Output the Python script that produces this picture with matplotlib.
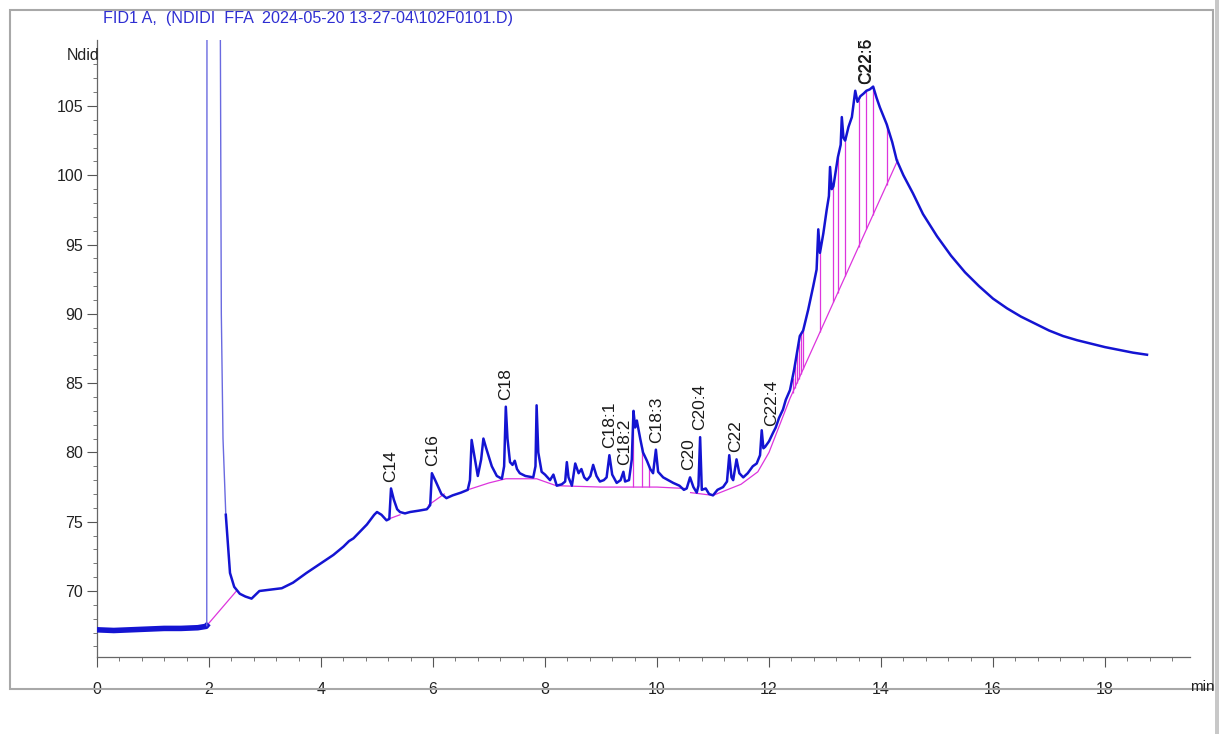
import matplotlib
matplotlib.use("Agg")
import matplotlib.pyplot as plt
import numpy as np
from matplotlib.ticker import MultipleLocator, FuncFormatter
from matplotlib.patches import Rectangle

# ---------------- data ----------------
title_text = "FID1 A,  (NDIDI  FFA  2024-05-20 13-27-04\\102F0101.D)"
y_unit = "Ndid"
x_unit = "min"

trace_t = [0.0, 0.3, 0.6, 0.9, 1.2, 1.5, 1.8, 1.95, 1.96, 1.965, 2.19, 2.22, 2.25, 2.3,
           2.375, 2.45, 2.55, 2.65, 2.76, 2.85, 2.9, 3.1, 3.3, 3.5, 3.74, 4.0, 4.22, 4.4,
           4.5, 4.58, 4.7, 4.82, 4.95, 5.0, 5.08, 5.17, 5.22, 5.25, 5.3, 5.36, 5.41, 5.5,
           5.59, 5.75, 5.89, 5.95, 5.98, 6.05, 6.15, 6.24, 6.35, 6.5, 6.62, 6.66, 6.69,
           6.74, 6.8, 6.86, 6.9, 6.95, 7.05, 7.14, 7.23, 7.27, 7.3, 7.33, 7.375, 7.42,
           7.46, 7.5, 7.55, 7.65, 7.79, 7.83, 7.85, 7.88, 7.94, 8.0, 8.09, 8.15, 8.21,
           8.3, 8.36, 8.39, 8.42, 8.48, 8.54, 8.6, 8.65, 8.7, 8.75, 8.81, 8.86, 8.92,
           8.98, 9.05, 9.1, 9.15, 9.2, 9.28, 9.35, 9.4, 9.43, 9.5, 9.55, 9.58, 9.61,
           9.64, 9.7, 9.75, 9.82, 9.88, 9.93, 9.98, 10.02, 10.11, 10.2, 10.29, 10.4,
           10.48, 10.53, 10.59, 10.65, 10.71, 10.74, 10.77, 10.8, 10.87, 10.93, 11.0,
           11.08, 11.18, 11.25, 11.29, 11.33, 11.36, 11.42, 11.47, 11.54, 11.62, 11.71,
           11.78, 11.84, 11.87, 11.9, 11.93, 12.0, 12.07, 12.12, 12.18, 12.25, 12.3,
           12.375, 12.45, 12.5, 12.55, 12.61, 12.7, 12.79, 12.85, 12.88, 12.91, 12.97,
           13.03, 13.07, 13.09, 13.12, 13.15, 13.23, 13.28, 13.3, 13.33, 13.36, 13.42,
           13.48, 13.54, 13.58, 13.63, 13.69, 13.74, 13.8, 13.86, 13.92, 13.98, 14.04,
           14.1, 14.2, 14.28, 14.4, 14.57, 14.75, 15.0, 15.25, 15.5, 15.75, 16.0, 16.25,
           16.5, 16.75, 17.0, 17.25, 17.5, 17.75, 18.0, 18.25, 18.5, 18.75]
trace_v = [67.2, 67.15, 67.2, 67.25, 67.3, 67.3, 67.35, 67.45, 67.5, 125.0, 125.0, 90.0, 81.0, 75.5,
           71.3, 70.3, 69.8, 69.6, 69.45, 69.8, 70.0, 70.1, 70.2, 70.6, 71.3, 72.0, 72.6, 73.2,
           73.6, 73.8, 74.3, 74.8, 75.5, 75.7, 75.5, 75.1, 75.2, 77.4, 76.6, 75.9, 75.7, 75.6,
           75.7, 75.8, 75.9, 76.2, 78.5, 77.9, 77.0, 76.7, 76.9, 77.1, 77.3, 78.0, 80.9,
           79.7, 78.3, 79.5, 81.0, 80.3, 79.0, 78.3, 78.1, 79.0, 83.3, 81.0, 79.3, 79.1,
           79.4, 78.8, 78.5, 78.3, 78.2, 79.0, 83.4, 80.0, 78.6, 78.4, 78.0, 78.4, 77.6,
           77.7, 77.9, 79.3, 78.2, 77.6, 79.2, 78.5, 78.8, 78.2, 78.0, 78.3, 79.1, 78.3,
           77.9, 78.0, 78.2, 79.8, 78.4, 77.8, 78.0, 78.6, 77.9, 78.0, 79.5, 83.0, 81.8,
           82.3, 81.0, 80.0, 79.4, 78.8, 78.5, 80.2, 78.6, 78.2, 78.0, 77.8, 77.6,
           77.3, 77.4, 78.2, 77.5, 77.1, 77.6, 81.1, 77.3, 77.4, 77.0, 76.9,
           77.3, 77.5, 77.9, 79.8, 78.2, 78.0, 79.5, 78.5, 78.2, 78.5, 79.0,
           79.2, 79.8, 81.6, 80.3, 80.4, 80.8, 81.4, 81.8, 82.5, 83.1, 83.8,
           84.5, 86.0, 87.2, 88.4, 88.8, 90.3, 92.0, 93.2, 96.1, 94.4, 95.8,
           97.5, 98.5, 100.6, 99.0, 99.2, 101.3, 102.2, 104.2, 102.7, 102.5, 103.5,
           104.2, 106.1, 105.3, 105.7, 105.9, 106.1, 106.2, 106.4, 105.6, 104.9, 104.3,
           103.7, 102.4, 101.1, 100.0, 98.7, 97.2, 95.6, 94.2, 93.0, 92.0, 91.1, 90.4,
           89.8, 89.3, 88.8, 88.4, 88.1, 87.85, 87.6, 87.4, 87.2, 87.05]

# integration baselines (time, value)
bl_solvent_t = [1.96, 2.49]
bl_solvent_v = [67.5, 70.0]
bl_c14_t = [5.21, 5.41]
bl_c14_v = [75.2, 75.5]
bl_c16_t = [5.92, 6.2]
bl_c16_v = [76.2, 77.0]
bl_mid_t = [6.62, 7.0, 7.3, 7.85, 8.2, 9.0, 10.0, 10.5]
bl_mid_v = [77.3, 77.8, 78.1, 78.1, 77.6, 77.5, 77.5, 77.4]
bl_late_t = [10.6, 11.0, 11.5, 11.8, 12.0, 12.375, 14.3]
bl_late_v = [77.1, 76.9, 77.7, 78.6, 80.0, 83.9, 101.1]

# peak separator (drop line) times
drop_mid_t = [9.57, 9.73, 9.86]
drop_late_t = [12.42, 12.46, 12.5, 12.53, 12.57, 12.61, 12.91, 13.15, 13.23, 13.36,
               13.6, 13.74, 13.86, 14.1]

# peak names and retention times
peak_names = ["C14", "C16", "C18", "C18:1", "C18:2", "C18:3", "C20", "C20:4",
              "C22", "C22:4", "C22:5", "C22:6"]
peak_times = [5.25, 6.0, 7.3, 9.15, 9.42, 10.0, 10.57, 10.77, 11.40, 12.05, 13.72, 13.75]

# ---------------- drawing ----------------
W, H = 1219, 734
fig = plt.figure(figsize=(W / 100, H / 100), dpi=100)
fig.patch.set_facecolor("white")

x0_px, x1_px, yb_px, yt_px = 97, 1190, 657, 40
px_per_min = 56.0
px_per_unit = 13.857
ax = fig.add_axes([x0_px / W, 1 - yb_px / H, (x1_px - x0_px) / W, (yb_px - yt_px) / H])
ax.set_xlim(0, (x1_px - x0_px) / px_per_min)
ax.set_ylim(70 - (yb_px - 591) / px_per_unit, 105 + (106 - yt_px) / px_per_unit)
ax.patch.set_alpha(0)

fam = ["Liberation Sans", "DejaVu Sans"]

for s in ["top", "right"]:
    ax.spines[s].set_visible(False)
for s in ["left", "bottom"]:
    ax.spines[s].set_color("#666666")
    ax.spines[s].set_linewidth(0.9)

ax.xaxis.set_major_locator(MultipleLocator(2))
ax.xaxis.set_minor_locator(MultipleLocator(0.4))
ax.yaxis.set_major_locator(MultipleLocator(5))
ax.yaxis.set_minor_locator(MultipleLocator(1))
ax.yaxis.set_major_formatter(FuncFormatter(lambda val, p: "" if val < 69 else f"{val:.0f}"))
ax.tick_params(which="major", direction="out", length=7, width=0.8, color="#555555",
               labelsize=11.5, labelcolor="#222222")
ax.tick_params(which="minor", direction="out", length=3, width=0.7, color="#777777")
ax.tick_params(axis="x", which="major", pad=11)
ax.tick_params(axis="y", which="major", pad=3)
for lab in ax.get_xticklabels() + ax.get_yticklabels():
    lab.set_family(fam)

blue = "#1414d2"
mag = "#dd35dd"

t = np.array(trace_t)
v = np.array(trace_v)
pre = t <= 1.96
spike = (t >= 1.96) & (t <= 2.3)
post = t >= 2.3
ax.plot(t[pre], v[pre], color=blue, lw=4.0, zorder=3)
ax.plot(t[spike], v[spike], color="#6a6ae0", lw=1.0, zorder=3)
ax.plot(t[post], v[post], color=blue, lw=1.8, solid_joinstyle="round", zorder=3)

for bt, bv in [(bl_solvent_t, bl_solvent_v), (bl_c14_t, bl_c14_v), (bl_c16_t, bl_c16_v),
               (bl_mid_t, bl_mid_v), (bl_late_t, bl_late_v)]:
    ax.plot(bt, bv, color=mag, lw=0.9, zorder=2)

for dt in drop_mid_t:
    ax.vlines(dt, np.interp(dt, bl_mid_t, bl_mid_v), np.interp(dt, t, v),
              color=mag, lw=0.9, zorder=2)
for dt in drop_late_t:
    ax.vlines(dt, np.interp(dt, bl_late_t, bl_late_v), np.interp(dt, t, v),
              color=mag, lw=0.9, zorder=2)

for name, pt in zip(peak_names, peak_times):
    sel = (t >= pt - 0.03) & (t <= pt + 0.03)
    apex = max([np.interp(pt, t, v)] + list(v[sel]))
    ax.annotate(name, (pt, apex), xytext=(0, 5), textcoords="offset points",
                rotation=90, ha="center", va="bottom", fontsize=12.5,
                color="#1a1a1a", family=fam, zorder=4)

# title, axis unit labels
fig.text(103 / W, 1 - 19 / H, title_text, color="#2e2ed2", fontsize=11.6,
         ha="left", va="center", family=fam)
fig.text(99 / W, 1 - 55 / H, y_unit, color="#222222", fontsize=11.5,
         ha="right", va="center", family=fam)
fig.text(1190 / W, 1 - 687 / H, x_unit, color="#222222", fontsize=11,
         ha="left", va="center", family=fam)

# page frame
fig.patches.append(Rectangle((10 / W, 1 - 689 / H), 1203 / W, 679 / H,
                             transform=fig.transFigure, fill=False,
                             edgecolor="#a8a8a8", lw=1.5, zorder=0))
fig.patches.append(Rectangle((1215 / W, 0), 4 / W, 1,
                             transform=fig.transFigure, facecolor="#c8c8c8",
                             edgecolor="none", zorder=0))

fig.savefig("out.png", dpi=100, facecolor="white")
